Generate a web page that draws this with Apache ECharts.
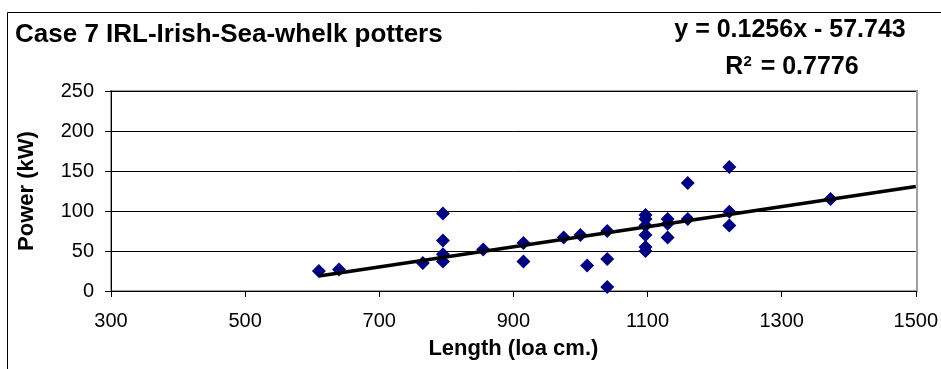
<!DOCTYPE html>
<html>
<head>
<meta charset="utf-8">
<script src="https://cdn.jsdelivr.net/npm/echarts@6/dist/echarts.min.js"></script>
<style>
  html, body { margin: 0; padding: 0; background: #fff; }
  #chart { width: 941px; height: 369px; }
</style>
</head>
<body>
<div id="chart"></div>
<script>
const chart = echarts.init(document.getElementById('chart'))

// vessel length (loa cm.) and engine power (kW)
const lengthCm = [610, 640, 765, 795, 795, 795, 795, 855, 915, 915, 975, 1000, 1010, 1040, 1040, 1040,
  1097, 1097, 1097, 1097, 1097, 1097, 1130, 1130, 1130, 1160, 1160, 1222, 1222, 1222, 1373]
const powerKw = [25, 27, 35, 97, 63, 46, 37, 52, 60, 37, 67, 70, 32, 75, 40, 5,
  95, 90, 82, 70, 55, 50, 90, 84, 67, 135, 90, 155, 99, 82, 115]

const slope = 0.1256
const intercept = -57.743
const r2 = 0.7776
const xTicks = [300, 1500, 200]
const yTicks = [0, 250, 50]

const font = "'Liberation Sans', Arial, sans-serif"
const points = lengthCm.map((x, i) => [x, powerKw[i]])
const xStart = Math.min(...lengthCm)
const trend = [xStart, xTicks[1]].map(x => [x, slope * x + intercept])

let option = {
  animation: false,
  backgroundColor: '#fff',
  title: {
    text: 'Case 7 IRL-Irish-Sea-whelk potters',
    left: 10,
    top: 17,
    textStyle: { fontFamily: font, fontSize: 26, fontWeight: 'bold', color: '#000' }
  },
  grid: { left: 111, top: 91, width: 806, height: 200 },
  xAxis: {
    type: 'value',
    min: xTicks[0], max: xTicks[1], interval: xTicks[2],
    name: 'Length (loa cm.)',
    nameLocation: 'middle',
    nameGap: 47,
    nameTextStyle: { fontFamily: font, fontSize: 22, fontWeight: 'bold', color: '#000' },
    axisLine: { show: true, onZero: false, lineStyle: { color: '#000', width: 1 } },
    axisTick: { show: true, inside: false, length: 6, lineStyle: { color: '#000' } },
    axisLabel: { fontFamily: font, fontSize: 20, color: '#000', margin: 20, formatter: v => String(v) },
    splitLine: { show: false }
  },
  yAxis: {
    type: 'value',
    min: yTicks[0], max: yTicks[1], interval: yTicks[2],
    name: 'Power (kW)',
    nameLocation: 'middle',
    nameGap: 73,
    nameTextStyle: { fontFamily: font, fontSize: 22, fontWeight: 'bold', color: '#000' },
    axisLine: { show: true, lineStyle: { color: '#000', width: 1 } },
    axisTick: { show: true, inside: false, length: 6, lineStyle: { color: '#000' } },
    axisLabel: { fontFamily: font, fontSize: 20, color: '#000', margin: 17, formatter: v => String(v) },
    splitLine: { show: true, lineStyle: { color: '#000', width: 1 } }
  },
  graphic: [
    { // chart frame, cut off at right and bottom
      type: 'rect', silent: true,
      shape: { x: 7.5, y: 12.5, width: 960, height: 400 },
      style: { fill: null, stroke: '#000', lineWidth: 1 }
    },
    { // plot area border
      type: 'rect', silent: true, z: -1,
      shape: { x: 111, y: 91, width: 806, height: 200 },
      style: { fill: null, stroke: '#a0a0a0', lineWidth: 2 }
    },
    {
      type: 'text', silent: true,
      x: 790, y: 30,
      style: {
        text: 'y = ' + slope + 'x - ' + Math.abs(intercept),
        font: 'bold 25px ' + font,
        fill: '#000', align: 'center', verticalAlign: 'middle'
      }
    },
    {
      type: 'text', silent: true,
      x: 792, y: 67,
      style: {
        text: '{r|R}{s|2}{r| = ' + r2 + '}',
        font: 'bold 25px ' + font,
        fill: '#000', align: 'center', verticalAlign: 'middle',
        rich: {
          r: { font: 'bold 25px ' + font, fill: '#000' },
          s: { font: 'bold 15px ' + font, fill: '#000', verticalAlign: 'top', padding: [0, 2, 10, 0] }
        }
      }
    }
  ],
  series: [
    {
      name: 'Power',
      type: 'scatter',
      symbol: 'diamond',
      symbolSize: 14,
      itemStyle: { color: '#000080', opacity: 1 },
      data: points,
      z: 2
    },
    {
      name: 'Linear trend',
      type: 'line',
      showSymbol: false,
      lineStyle: { color: '#000', width: 3.5 },
      data: trend,
      z: 3
    }
  ]
}
chart.setOption(option)
</script>
</body>
</html>
